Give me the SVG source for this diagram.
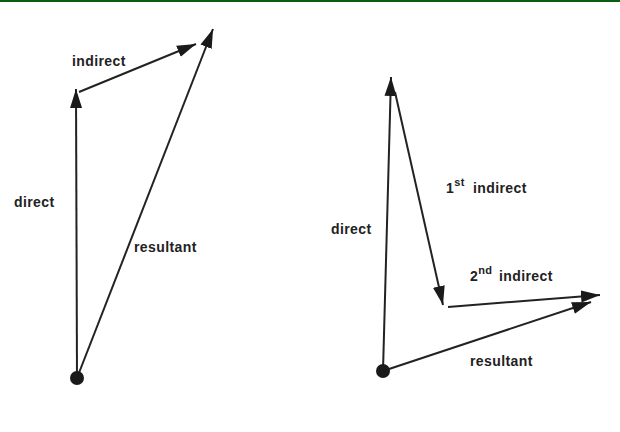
<svg xmlns="http://www.w3.org/2000/svg" width="620" height="432" viewBox="0 0 620 432">
  <style>
    .v { stroke: #222; stroke-width: 2; fill: none; marker-end: url(#ah); }
    .lbl { font-family: "Liberation Sans", Arial, sans-serif; font-weight: bold; font-size: 14px; letter-spacing: 0.4px; fill: #222; }
    .sup { font-size: 11px; }
    .dot { fill: #1a1a1a; }
  </style>
  <defs>
    <marker id="ah" markerUnits="userSpaceOnUse" markerWidth="20" markerHeight="14" refX="19" refY="7" orient="auto">
      <path d="M0,1 L19,7 L0,13 Z" fill="#1a1a1a"/>
    </marker>
  </defs>
  <rect x="0" y="0" width="620" height="2" fill="#0b5d12"/>

  <g id="connectors">
    <line id="left-direct" class="v" x1="77" y1="378" x2="76" y2="89"/>
    <line id="left-indirect" class="v" x1="79" y1="92" x2="196" y2="44"/>
    <line id="left-resultant" class="v" x1="77" y1="378" x2="213" y2="29"/>
    <line id="right-direct" class="v" x1="383" y1="371" x2="391" y2="77"/>
    <line id="right-indirect1" class="v" x1="395" y1="92" x2="443" y2="305"/>
    <line id="right-indirect2" class="v" x1="448" y1="307" x2="600" y2="295"/>
    <line id="right-resultant" class="v" x1="383" y1="371" x2="591" y2="302"/>
  </g>

  <g id="left-origin"><circle class="dot" cx="77" cy="378" r="7"/></g>
  <g id="right-origin"><circle class="dot" cx="383" cy="371" r="7"/></g>

  <g id="labels-left">
    <text class="lbl" x="72" y="66">indirect</text>
    <text class="lbl" x="14" y="207">direct</text>
    <text class="lbl" x="134" y="252">resultant</text>
  </g>
  <g id="labels-right">
    <text class="lbl" x="331" y="234">direct</text>
    <text class="lbl" x="446" y="193">1<tspan class="sup" dy="-7">st</tspan><tspan dy="7" x="473">indirect</tspan></text>
    <text class="lbl" x="470" y="281">2<tspan class="sup" dy="-7">nd</tspan><tspan dy="7" x="499">indirect</tspan></text>
    <text class="lbl" x="470" y="366">resultant</text>
  </g>
</svg>
